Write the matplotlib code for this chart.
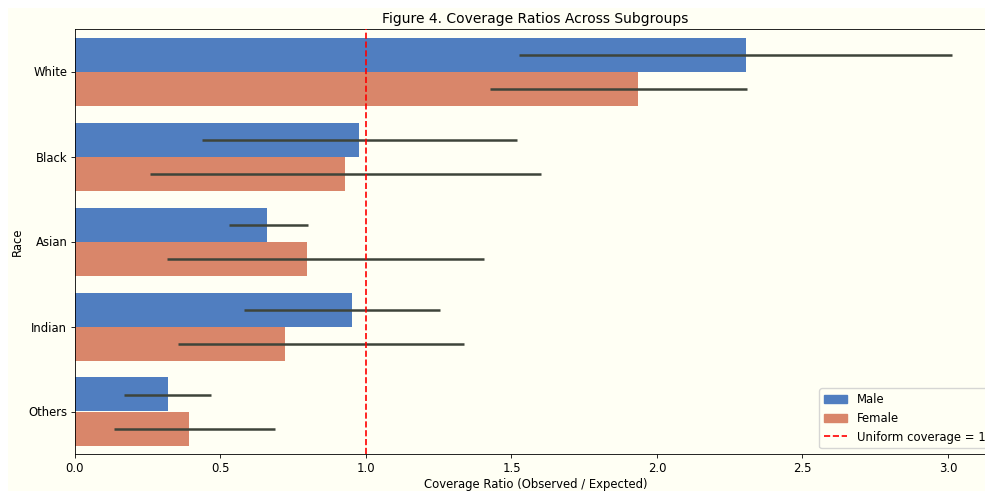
import numpy as np
import matplotlib
matplotlib.use("Agg")
import matplotlib.pyplot as plt
from matplotlib.patches import Rectangle, Patch
from matplotlib.lines import Line2D

# Coverage ratios (observed / expected) by race and sex, with interval bounds
races = ["White", "Black", "Asian", "Indian", "Others"]
male_ratio = [2.306, 0.976, 0.660, 0.952, 0.320]
male_low = [1.526, 0.436, 0.529, 0.581, 0.168]
male_high = [3.014, 1.519, 0.801, 1.254, 0.467]
female_ratio = [1.935, 0.928, 0.797, 0.722, 0.392]
female_low = [1.426, 0.258, 0.316, 0.354, 0.134]
female_high = [2.309, 1.601, 1.405, 1.337, 0.687]

bg = "#fffff4"
male_color = "#507ec0"
female_color = "#d9866a"
err_color = "#3e443a"
fs = 8.4

fig = plt.figure(figsize=(9.85, 4.91), dpi=100, facecolor="white")
fig.patches.append(Rectangle((8 / 985, 0), 1, (491 - 8) / 491, transform=fig.transFigure,
                             facecolor=bg, edgecolor="none", zorder=-1))

ax = fig.add_axes([75 / 985, 37 / 491, 921 / 985, 425 / 491])
ax.set_facecolor(bg)

y = np.arange(len(races))
h = 0.4
ax.barh(y - h / 2, male_ratio, height=h, color=male_color, label="Male")
ax.barh(y + h / 2, female_ratio, height=h, color=female_color, label="Female")
ax.hlines(y - h / 2, male_low, male_high, color=err_color, lw=1.8, zorder=3)
ax.hlines(y + h / 2, female_low, female_high, color=err_color, lw=1.8, zorder=3)

ax.axvline(1.0, color="red", linestyle="--", lw=1.2, zorder=4)

ax.set_xlim(0, 3.165)
ax.set_ylim(len(races) - 0.5, -0.5)
ax.set_yticks(y)
ax.set_yticklabels(races)
ax.set_xticks([0.0, 0.5, 1.0, 1.5, 2.0, 2.5, 3.0])
ax.tick_params(labelsize=fs, length=2.7, width=0.6, pad=2.8)
for s in ax.spines.values():
    s.set_linewidth(0.6)
ax.spines["right"].set_visible(False)

ax.set_xlabel("Coverage Ratio (Observed / Expected)", fontsize=fs, labelpad=2.5)
ax.set_ylabel("Race", fontsize=fs, labelpad=3)
ax.set_title("Figure 4. Coverage Ratios Across Subgroups", fontsize=10, pad=4.6)

handles = [Patch(color=male_color, label="Male"),
           Patch(color=female_color, label="Female"),
           Line2D([0], [0], color="red", linestyle="--", lw=1.2, label="Uniform coverage = 1")]
ax.legend(handles=handles, loc="lower right", fontsize=fs, facecolor=bg, framealpha=0.8)

fig.savefig("out.png", dpi=100, facecolor=fig.get_facecolor())
